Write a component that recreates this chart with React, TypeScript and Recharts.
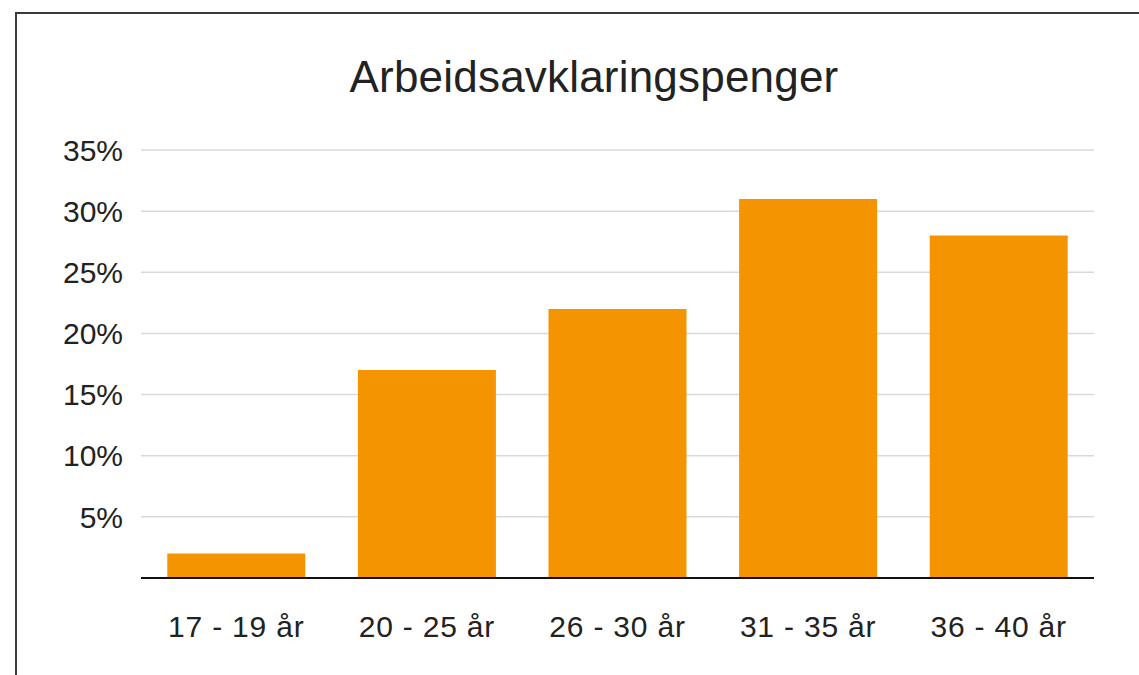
import React from "react";
import { BarChart, Bar, XAxis, YAxis, CartesianGrid } from "recharts";

const categories = ["17 - 19 år", "20 - 25 år", "26 - 30 år", "31 - 35 år", "36 - 40 år"];
const values = [2, 17, 22, 31, 28];
const yTicks = [5, 10, 15, 20, 25, 30, 35];
const title = "Arbeidsavklaringspenger";

const data = categories.map((c, i) => ({ name: c, value: values[i] }));

const FONT = '"Liberation Sans", Arial, Helvetica, sans-serif';
const TEXT = "#222";

export default function App() {
  return (
    <div
      style={{
        position: "absolute",
        left: 0,
        top: 0,
        width: 1139,
        height: 675,
        overflow: "hidden",
        background: "#fff",
        fontFamily: FONT,
      }}
    >
      <div
        style={{
          position: "absolute",
          left: 15,
          top: 12,
          width: 1300,
          height: 800,
          borderTop: "2px solid #3a3a3a",
          borderLeft: "2px solid #3a3a3a",
        }}
      />
      <div
        style={{
          position: "absolute",
          left: 0,
          top: 55,
          width: 1188,
          textAlign: "center",
          fontSize: 44,
          lineHeight: "44px",
          color: TEXT,
          whiteSpace: "nowrap",
          letterSpacing: 0.2,
        }}
      >
        {title}
      </div>
      <div style={{ position: "absolute", left: 0, top: 0 }}>
        <BarChart
          width={1139}
          height={675}
          data={data}
          margin={{ top: 150, right: 45, bottom: 0, left: 41 }}
          barCategoryGap="13.8%"
        >
          <CartesianGrid vertical={false} stroke="#d9d9d9" strokeWidth={1.5} />
          <XAxis
            dataKey="name"
            height={97}
            tickLine={false}
            axisLine={{ stroke: "#111", strokeWidth: 2 }}
            tickMargin={32}
            tick={{ fill: TEXT, fontSize: 30, fontFamily: FONT, letterSpacing: 0.8 }}
            interval={0}
          />
          <YAxis
            width={100}
            domain={[0, 35]}
            ticks={yTicks}
            tickFormatter={(v: number) => `${v}%`}
            axisLine={false}
            tickLine={false}
            tickMargin={12}
            tick={{ fill: TEXT, fontSize: 30, fontFamily: FONT }}
          />
          <Bar dataKey="value" fill="#F39400" isAnimationActive={false} />
        </BarChart>
      </div>
    </div>
  );
}
